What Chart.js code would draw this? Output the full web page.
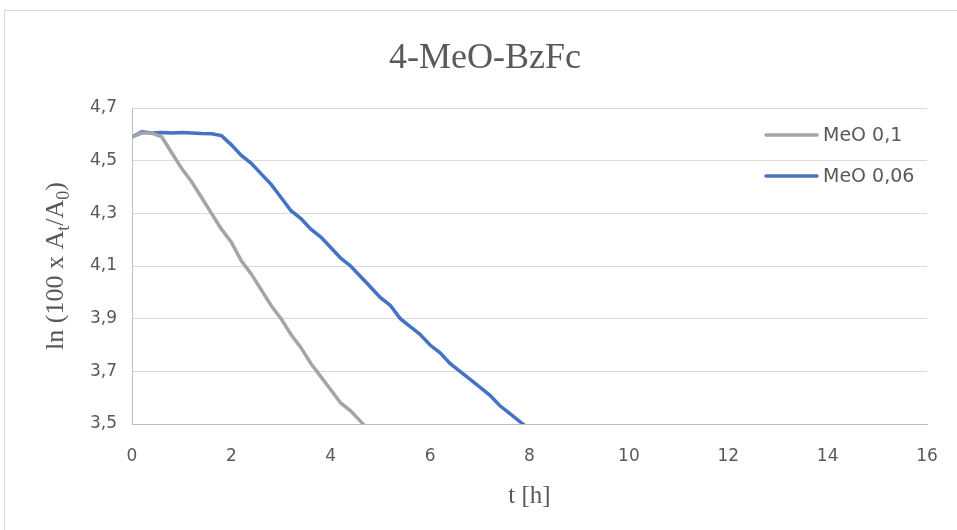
<!DOCTYPE html>
<html>
<head>
<meta charset="utf-8">
<title>4-MeO-BzFc</title>
<script src="https://cdn.jsdelivr.net/npm/chart.js@4.4.1/dist/chart.umd.min.js"></script>
<style>
    html, body { margin: 0; padding: 0; background: #ffffff; }
    #wrap { position: relative; width: 957px; height: 530px; }
</style>
</head>
<body>
<div id="wrap"><canvas id="kineticsChart"></canvas></div>
<script>
// time [h] and ln(100 x At/A0) for both runs
const timeMeO01 = [0, 0.2, 0.4, 0.6, 0.8, 1.0, 1.2, 1.4, 1.6, 1.8, 2.0, 2.2, 2.4, 2.6, 2.8, 3.0,
    3.2, 3.4, 3.6, 3.8, 4.0, 4.2, 4.4, 4.6, 4.8];
const lnMeO01 = [4.59, 4.605, 4.605, 4.59, 4.53, 4.47, 4.42, 4.36, 4.30, 4.24, 4.19, 4.12, 4.07,
    4.01, 3.95, 3.90, 3.84, 3.79, 3.73, 3.68, 3.63, 3.58, 3.55, 3.51, 3.47];

const timeMeO006 = [0, 0.2, 0.4, 0.6, 0.8, 1.0, 1.2, 1.4, 1.6, 1.8, 2.0, 2.2, 2.4, 2.6, 2.8, 3.0,
    3.2, 3.4, 3.6, 3.8, 4.0, 4.2, 4.4, 4.6, 4.8, 5.0, 5.2, 5.4, 5.6, 5.8, 6.0, 6.2, 6.4, 6.6, 6.8,
    7.0, 7.2, 7.4, 7.6, 7.8, 8.0];
const lnMeO006 = [4.59, 4.61, 4.605, 4.607, 4.605, 4.607, 4.605, 4.603, 4.602, 4.595, 4.56, 4.52,
    4.49, 4.45, 4.41, 4.36, 4.31, 4.28, 4.24, 4.21, 4.17, 4.13, 4.10, 4.06, 4.02, 3.98, 3.95, 3.90,
    3.87, 3.84, 3.80, 3.77, 3.73, 3.70, 3.67, 3.64, 3.61, 3.57, 3.54, 3.51, 3.48];

const seriesLabels = ["MeO 0,1", "MeO 0,06"];
const seriesColors = ["#a5a5a5", "#4472c4"];

const yTicks = { min: 3.5, max: 4.7, step: 0.2 };
const xTicks = { min: 0, max: 16, step: 2 };

const chartTitle = "4-MeO-BzFc";
const xTitle = "t [h]";

const textGrey = "#595959";
const sansFont = "'DejaVu Sans', sans-serif";
const serifFont = "'Liberation Serif', 'Times New Roman', serif";

function toPoints(xs, ys) {
    return xs.map((x, i) => ({ x: x, y: ys[i] }));
}

// frame, titles and legend drawn straight on the canvas
const decorations = {
    id: 'decorations',
    beforeDraw(chart) {
        const ctx = chart.ctx;
        ctx.save();
        ctx.strokeStyle = "#d9d9d9";
        ctx.lineWidth = 1;
        ctx.strokeRect(4.5, 10.5, chart.width + 20, chart.height + 20);
        ctx.restore();
    },
    afterDraw(chart) {
        const ctx = chart.ctx;
        const area = chart.chartArea;
        ctx.save();
        ctx.fillStyle = textGrey;

        // chart title
        ctx.font = "36px " + serifFont;
        ctx.textAlign = "center";
        ctx.textBaseline = "alphabetic";
        ctx.fillText(chartTitle, 485, 68);

        // x axis title
        ctx.font = "25px " + serifFont;
        ctx.fillText(xTitle, (area.left + area.right) / 2, 503);

        // y axis title with subscripts
        const parts = [
            { t: "ln (100 x A", sub: false },
            { t: "t", sub: true },
            { t: "/A", sub: false },
            { t: "0", sub: true },
            { t: ")", sub: false }
        ];
        const mainFont = "26px " + serifFont;
        const subFont = "18px " + serifFont;
        let total = 0;
        parts.forEach(p => {
            ctx.font = p.sub ? subFont : mainFont;
            p.w = ctx.measureText(p.t).width;
            total += p.w;
        });
        ctx.translate(63, (area.top + area.bottom) / 2);
        ctx.rotate(-Math.PI / 2);
        ctx.textAlign = "left";
        let cx = -total / 2;
        parts.forEach(p => {
            ctx.font = p.sub ? subFont : mainFont;
            ctx.fillText(p.t, cx, p.sub ? 6 : 0);
            cx += p.w;
        });
        ctx.restore();

        // legend
        ctx.save();
        ctx.font = "19px " + sansFont;
        ctx.textBaseline = "middle";
        ctx.textAlign = "left";
        const rows = [135, 176];
        chart.data.datasets.forEach((ds, i) => {
            ctx.strokeStyle = ds.borderColor;
            ctx.lineWidth = 3.5;
            ctx.lineCap = "round";
            ctx.beginPath();
            ctx.moveTo(766, rows[i]);
            ctx.lineTo(817, rows[i]);
            ctx.stroke();
            ctx.fillStyle = textGrey;
            ctx.fillText(ds.label, 823, rows[i] + 1);
        });
        ctx.restore();
    }
};

function createChart(id, config) {
    const ctx = document.getElementById(id);
    if (!ctx) {
        console.error(`Canvas element with id '${id}' not found`);
        return;
    }
    ctx.chart = new Chart(ctx, config);
}

document.addEventListener('DOMContentLoaded', function () {
    createChart("kineticsChart", {
        type: "line",
        data: {
            datasets: [
                {
                    label: seriesLabels[0],
                    data: toPoints(timeMeO01, lnMeO01),
                    borderColor: seriesColors[0],
                    backgroundColor: seriesColors[0],
                    borderWidth: 3.5,
                    pointRadius: 0,
                    tension: 0,
                },
                {
                    label: seriesLabels[1],
                    data: toPoints(timeMeO006, lnMeO006),
                    borderColor: seriesColors[1],
                    backgroundColor: seriesColors[1],
                    borderWidth: 3.5,
                    pointRadius: 0,
                    tension: 0,
                },
            ],
        },
        options: {
            responsive: true,
            maintainAspectRatio: false,
            animation: false,
            layout: { padding: { left: 0, right: 30, top: 108, bottom: 0 } },
            plugins: {
                legend: { display: false },
                title: { display: false },
                tooltip: { enabled: false },
            },
            scales: {
                x: {
                    type: "linear",
                    min: xTicks.min,
                    max: xTicks.max,
                    afterFit(scale) { scale.height = 106; },
                    ticks: {
                        stepSize: xTicks.step,
                        color: textGrey,
                        font: { family: sansFont, size: 17 },
                        padding: 14,
                        maxRotation: 0,
                    },
                    grid: { display: false },
                    border: { display: true, color: "#bfbfbf", width: 1 },
                },
                y: {
                    min: yTicks.min,
                    max: yTicks.max,
                    afterFit(scale) { scale.width = 132; },
                    ticks: {
                        stepSize: yTicks.step,
                        color: textGrey,
                        font: { family: sansFont, size: 17 },
                        padding: 15,
                        callback: v => v.toFixed(1).replace(".", ","),
                    },
                    grid: { color: "#d9d9d9", lineWidth: 1, drawTicks: false },
                    border: { display: true, color: "#bfbfbf", width: 1 },
                },
            },
        },
        plugins: [decorations],
    });
});
</script>
</body>
</html>
